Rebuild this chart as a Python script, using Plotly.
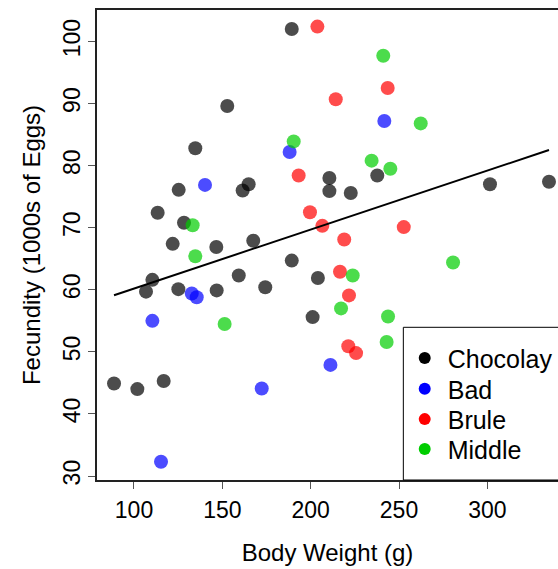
import plotly.graph_objects as go

# ---- data ----
choc_x = [189.3, 152.8, 134.7, 125.3, 164.9, 161.5, 113.4, 128.3, 121.9, 146.6, 167.5,
          189.3, 110.4, 106.8, 125.1, 146.8, 159.3, 174.3, 204.1, 201.1, 88.7, 101.9, 116.8,
          210.6, 210.6, 222.7, 237.7, 301.5, 334.9]
choc_y = [102.0, 89.6, 82.8, 76.1, 77.0, 76.0, 72.4, 70.8, 67.4, 66.9, 67.9,
          64.7, 61.6, 59.7, 60.1, 59.9, 62.3, 60.4, 61.9, 55.6, 44.9, 44.0, 45.3,
          78.0, 75.9, 75.6, 78.4, 77.0, 77.4]

bad_x = [188.1, 140.2, 132.7, 135.5, 110.4, 211.2, 172.3, 115.3, 241.7]
bad_y = [82.2, 76.9, 59.4, 58.8, 55.0, 47.9, 44.1, 32.3, 87.2]

brule_x = [203.8, 214.2, 243.6, 193.2, 199.6, 206.6, 219.0, 252.7, 216.6, 221.7, 221.3, 225.7]
brule_y = [102.4, 90.7, 92.5, 78.4, 72.5, 70.3, 68.1, 70.1, 62.9, 59.1, 50.9, 49.8]

middle_x = [241.1, 262.3, 234.5, 245.1, 190.4, 133.2, 134.7, 151.3, 223.8, 217.2, 243.8, 243.0, 280.6]
middle_y = [97.7, 86.8, 80.8, 79.5, 83.9, 70.4, 65.4, 54.5, 62.3, 57.0, 55.7, 51.6, 64.4]

fit_intercept = 50.7
fit_slope = 0.095

groups = ["Chocolay", "Bad", "Brule", "Middle"]
x_ticks = [100, 150, 200, 250, 300]
y_ticks = [30, 40, 50, 60, 70, 80, 90, 100]

# ---- styles ----
point_cols = ["rgba(0,0,0,0.7)", "rgba(0,0,255,0.7)", "rgba(255,0,0,0.7)", "rgba(0,205,0,0.7)"]
legend_cols = ["rgb(0,0,0)", "rgb(0,0,255)", "rgb(255,0,0)", "rgb(0,205,0)"]
FONT = "Liberation Sans, Arial, sans-serif"

fig = go.Figure()
series = [(choc_x, choc_y), (bad_x, bad_y), (brule_x, brule_y), (middle_x, middle_y)]
for (xs, ys), col in zip(series, point_cols):
    fig.add_trace(go.Scatter(x=xs, y=ys, mode="markers", showlegend=False,
                             marker=dict(size=14, color=col, line=dict(width=0))))

all_x = choc_x + bad_x + brule_x + middle_x
lx = [min(all_x), max(all_x)]
ly = [fit_intercept + fit_slope * v for v in lx]
fig.add_trace(go.Scatter(x=lx, y=ly, mode="lines", showlegend=False,
                         line=dict(color="black", width=2)))

legend_names = ["legend", "legend2", "legend3", "legend4"]
row_y = [0.259, 0.1936, 0.129, 0.0653]
for name, col, lg in zip(groups, legend_cols, legend_names):
    fig.add_trace(go.Scatter(x=[None], y=[None], mode="markers", name=name, legend=lg,
                             marker=dict(size=12, color=col)))

layout_legends = {}
for lg, ry in zip(legend_names, row_y):
    layout_legends[lg] = dict(x=0.661, y=ry, xanchor="left", yanchor="middle",
                              bgcolor="rgba(0,0,0,0)", borderwidth=0, itemwidth=36,
                              font=dict(family=FONT, size=25, color="black"),
                              itemsizing="constant")

fig.update_layout(
    width=558, height=569,
    margin=dict(l=97, r=0, t=10, b=89),
    plot_bgcolor="white", paper_bgcolor="white",
    font=dict(family=FONT, size=24, color="black"),
    **layout_legends,
    shapes=[dict(type="rect", xref="paper", yref="paper", x0=0.6645, x1=1.2, y0=0, y1=0.3249,
                 line=dict(color="black", width=1), fillcolor="rgba(0,0,0,0)", layer="above")],
)
fig.update_xaxes(range=[79.06, 340.0], tickvals=x_ticks, showgrid=False, zeroline=False,
                 showline=True, linecolor="#222", linewidth=1.5, mirror=True,
                 ticks="outside", ticklen=7, tickcolor="#555", tickwidth=1.3,
                 tickfont=dict(size=23), ticklabelstandoff=2,
                 title=dict(text="Body Weight (g)", standoff=22, font=dict(size=24)))
fig.update_yaxes(range=[29.36, 105.07], tickvals=y_ticks, showgrid=False, zeroline=False,
                 showline=True, linecolor="#222", linewidth=1.5, mirror=False,
                 ticks="outside", ticklen=7, tickcolor="#555", tickwidth=1.3,
                 tickangle=-90, tickfont=dict(size=23), ticklabelstandoff=-1,
                 title=dict(text="Fecundity (1000s of Eggs)", standoff=12, font=dict(size=24)))

fig.write_html("out.html", config={"displayModeBar": False},
               post_script="document.body.style.margin='0';document.body.style.overflow='hidden';")
